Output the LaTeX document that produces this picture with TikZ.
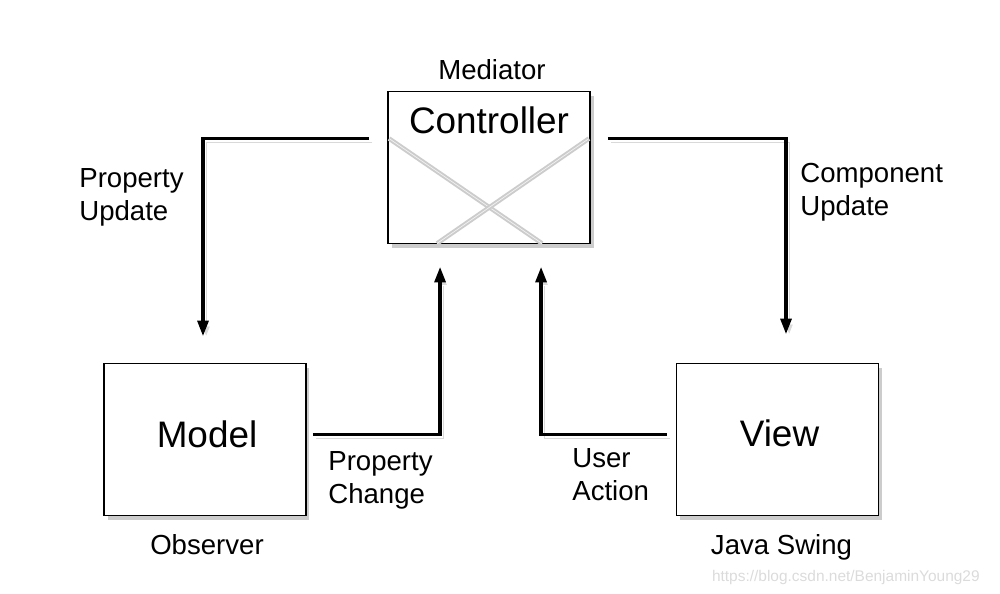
\documentclass[tikz,border=0pt]{standalone}
\usepackage{fontspec}
\setmainfont{Liberation Sans}
\usepackage{tikz}
\usetikzlibrary{arrows.meta, calc, shadows}

\begin{document}
\begin{tikzpicture} [x=0.02cm, y=-0.02cm,
	box/.style={draw, line width=1.1pt, fill=white, minimum width=4.04cm, minimum height=3.04cm,
		drop shadow={shadow xshift=2pt, shadow yshift=-2.6pt, opacity=0.4}},
	bigtext/.style={inner sep=0pt, font=\fontsize{21}{25}\selectfont},
	smalltext/.style={inner sep=0pt, align=left, font=\fontsize{15.7}{18.8}\selectfont},
	flow/.style={line width=2.2pt, -{Triangle[length=9pt, width=6pt]},
		preaction={draw=black!15, transform canvas={shift={(1.8pt,-2.4pt)}}}},
	crossline/.style={draw=black!20, line width=1.1pt, double=black!5, double distance=0.4pt}]
	% border
	\useasboundingbox (0,0) rectangle (1000,593);
	
	% boxes
	\node[box] (ctrl) at (489,167.5) {};
	\node[box] (model) at (205,439.5) {};
	\node[box] (view) at (777.5,439.5) {};
	
	\draw[crossline] ($(ctrl.north west)+(2,48)$) -- ($(ctrl.south west)+(155,-1)$);
	\draw[crossline] ($(ctrl.north east)+(-2,48)$) -- ($(ctrl.south west)+(50,-1)$);
	\node[bigtext] (ctrlname) at ($(ctrl.north)+(0,30)$) {Controller};
	\node[bigtext] (modelname) at ($(model)+(2,-5)$) {Model};
	\node[bigtext] (viewname) at ($(view)+(2,-6)$) {View};
	
	\node[smalltext] (mediator) at ($(ctrl.north)+(3,-21)$) {Mediator};
	\node[smalltext, anchor=base] (observer) at ($(model.south)+(2,38)$) {Observer};
	\node[smalltext, anchor=base] (swing) at ($(view.south)+(4,38)$) {Java Swing};
	
	% connectors
	\coordinate (pu) at ($(ctrl.north west)+(-18,48)$);
	\coordinate (cu) at ($(ctrl.north east)+(17,48)$);
	\coordinate (pc) at ($(model.east)+(6,-5)$);
	\coordinate (ua) at ($(view.west)+(-9,-5)$);
	
	\draw[flow] (pu) -| ($(model.north)+(-2,-26)$);
	\draw[flow] (cu) -| ($(view.north)+(8.5,-28)$);
	\draw[flow] (pc) -| ($(ctrl.south west)+(53,22)$);
	\draw[flow] (ua) -| ($(ctrl.south west)+(154,22)$);
	
	\node[smalltext, anchor=west] (pulbl) at (79,197.5) {Property\\Update};
	\node[smalltext, anchor=west] (culbl) at (800,192.5) {Component\\Update};
	\node[smalltext, anchor=west] (pclbl) at (328,480.5) {Property\\Change};
	\node[smalltext, anchor=west] (ualbl) at (572,474.5) {User\\Action};
	
	\node[inner sep=0pt, anchor=east, text=black!14, font=\fontsize{8.8}{10}\selectfont] (mark) at (980,577) {https://blog.csdn.net/BenjaminYoung29};
	
\end{tikzpicture}
\end{document}
